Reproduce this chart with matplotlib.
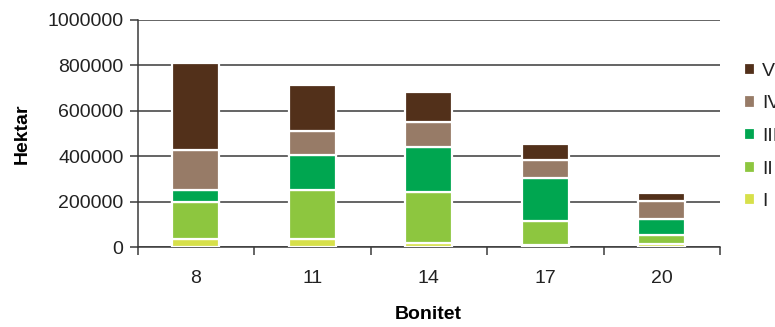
import matplotlib
matplotlib.use("Agg")
import matplotlib.pyplot as plt
import numpy as np

plt.rcParams['font.family'] = ['Liberation Sans', 'DejaVu Sans']

# Site index classes (bonitet) and area per age class (hectare)
bonitet = ["8", "11", "14", "17", "20"]
class_names = ["I", "II", "III", "IV", "V"]
cls_I = [35000, 35000, 19000, 12000, 13000]
cls_II = [162000, 218000, 225000, 105000, 41000]
cls_III = [54000, 152000, 196000, 189000, 70000]
cls_IV = [174000, 106000, 111000, 77000, 78000]
cls_V = [383000, 200000, 131000, 69000, 35000]
colors = ["#d7e04a", "#8dc63f", "#00a650", "#977b67", "#52301a"]
yticks = [0, 200000, 400000, 600000, 800000, 1000000]

series = [cls_I, cls_II, cls_III, cls_IV, cls_V]
fs = 14

fig = plt.figure(figsize=(7.75, 3.27), dpi=100)
ax = fig.add_axes([137.5 / 775, 1 - 247.3 / 327, (720 - 137.5) / 775, (247.3 - 19.5) / 327])

x = np.arange(len(bonitet))
bottom = np.zeros(len(bonitet))
handles = []
for vals, col, name in zip(series, colors, class_names):
    b = ax.bar(x, vals, width=0.4, bottom=bottom, color=col, edgecolor="white",
               linewidth=1.6, label=name, zorder=3)
    handles.append(b)
    bottom += np.array(vals)

ax.set_xlim(-0.5, len(bonitet) - 0.5)
ax.set_ylim(0, 1000000)
ax.set_yticks(yticks)
ax.set_yticklabels([str(v) for v in yticks], fontsize=fs, color="#222222")
ax.yaxis.grid(True, color="#3a3a3a", linewidth=1.1, zorder=1)
ax.set_axisbelow(True)

ax.set_xticks(x)
ax.set_xticklabels(bonitet, fontsize=fs, color="#222222")
ax.tick_params(axis="x", which="major", length=0, pad=16)
ax.set_xticks(np.arange(-0.5, len(bonitet)), minor=True)
ax.tick_params(axis="x", which="minor", length=6, width=1.1, color="#3a3a3a")
ax.tick_params(axis="y", length=6, width=1.1, color="#3a3a3a", pad=4)

for s in ["top", "right"]:
    ax.spines[s].set_visible(False)
for s in ["left", "bottom"]:
    ax.spines[s].set_color("#3a3a3a")
    ax.spines[s].set_linewidth(1.1)

ax.set_ylabel("Hektar", fontsize=fs, fontweight="bold", labelpad=12)
ax.set_xlabel("Bonitet", fontsize=fs, fontweight="bold", labelpad=14)

# Legend sits at the right edge, its labels running up to the border
leg = fig.legend(handles[::-1], class_names[::-1], loc="upper left",
                 bbox_to_anchor=(736 / 775, 1 - 55 / 327), frameon=False,
                 fontsize=fs, handlelength=0.6, handleheight=0.6,
                 handletextpad=0.35, labelspacing=0.8, borderaxespad=0)
for t in leg.get_texts():
    t.set_color("#222222")

fig.savefig("out.png", dpi=100)
